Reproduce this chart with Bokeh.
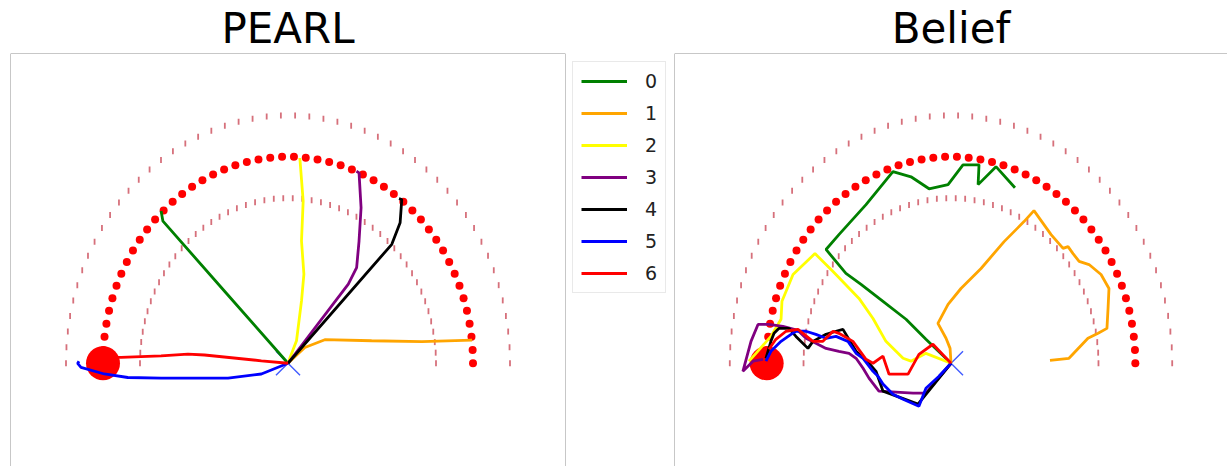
import numpy as np
from bokeh.plotting import figure
from bokeh.models import Legend, LegendItem, Span
from bokeh.layouts import row
from bokeh.embed import file_html
from bokeh.resources import INLINE

# agents and their colours
agent_labels = ["0", "1", "2", "3", "4", "5", "6"]
agent_colors = ["#008000", "#ffa500", "#ffff00", "#800080", "#000000", "#0000ff", "#ff0000"]

# goal ring geometry
goal_radius = 1.0
inner_radius = 0.8
outer_radius = 1.2
ring_points = 50
goal_pos = (-1.0, 0.0)
start_pos = (0.0, 0.0)

# PEARL trajectories (one list per agent)
pearl_x = [
    [0.0, -0.338, -0.676, -0.686],
    [0.0, 0.091, 0.199, 0.452, 0.724, 0.995],
    [0.0, 0.019, 0.046, 0.073, 0.086, 0.073, 0.082, 0.064],
    [0.0, 0.326, 0.371, 0.384, 0.395, 0.384, 0.370],
    [0.0, 0.561, 0.606, 0.615, 0.600],
    [0.0, -0.144, -0.324, -0.686, -0.866, -0.993, -1.119, -1.137, -1.130],
    [0.0, -0.144, -0.451, -0.541, -0.686, -0.902, -1.000],
]
pearl_y = [
    [0.0, 0.344, 0.688, 0.737],
    [0.0, 0.076, 0.114, 0.109, 0.105, 0.112],
    [0.0, 0.046, 0.109, 0.302, 0.431, 0.592, 0.785, 0.994],
    [0.0, 0.383, 0.463, 0.592, 0.753, 0.922, 0.930],
    [0.0, 0.576, 0.680, 0.793, 0.797],
    [0.0, -0.052, -0.072, -0.072, -0.069, -0.052, -0.020, -0.001, 0.010],
    [0.0, 0.012, 0.040, 0.044, 0.036, 0.028, 0.030],
]

# Belief trajectories (one list per agent)
belief_x = [
    [0.0, -0.136, -0.244, -0.369, -0.488, -0.570, -0.678, -0.608, -0.461, -0.315,
     -0.217, -0.119, -0.016, 0.065, 0.152, 0.147, 0.244, 0.347],
    [0.0, -0.005, -0.027, -0.071, -0.016, 0.054, 0.163, 0.288, 0.396, 0.450, 0.543,
     0.608, 0.635, 0.662, 0.695, 0.749, 0.814, 0.857, 0.852, 0.846, 0.798, 0.743,
     0.640, 0.537],
    [0.0, -0.136, -0.217, -0.260, -0.353, -0.423, -0.499, -0.640, -0.738, -0.857,
     -0.917, -0.922, -0.977, -1.058, -1.096],
    [0.0, -0.136, -0.206, -0.391, -0.445, -0.477, -0.515, -0.553, -0.608, -0.678,
     -0.733, -0.787, -0.830, -0.912, -0.988, -1.047, -1.085, -1.129, -1.074, -1.020],
    [0.0, -0.179, -0.369, -0.407, -0.445, -0.515, -0.586, -0.624, -0.678, -0.749,
     -0.776, -0.841, -0.879, -0.933, -0.960, -0.977, -1.004],
    [0.0, -0.065, -0.136, -0.174, -0.260, -0.315, -0.369, -0.396, -0.423, -0.477,
     -0.515, -0.559, -0.624, -0.678, -0.733, -0.787, -0.841, -0.868, -0.922, -0.977,
     -1.004],
    [0.0, -0.098, -0.174, -0.233, -0.336, -0.369, -0.423, -0.461, -0.532, -0.608,
     -0.640, -0.695, -0.749, -0.830, -0.895, -0.950, -0.988],
]
belief_y = [
    [0.0, 0.116, 0.213, 0.300, 0.382, 0.435, 0.551, 0.623, 0.768, 0.928,
     0.903, 0.845, 0.865, 0.961, 0.961, 0.865, 0.952, 0.850],
    [0.0, 0.072, 0.121, 0.193, 0.285, 0.362, 0.459, 0.589, 0.686, 0.739, 0.623,
     0.556, 0.565, 0.531, 0.493, 0.478, 0.430, 0.362, 0.266, 0.169, 0.145, 0.121,
     0.024, 0.014],
    [0.0, 0.048, 0.010, 0.024, 0.106, 0.217, 0.314, 0.444, 0.531, 0.430,
     0.300, 0.213, 0.130, 0.048, 0.010],
    [0.0, -0.145, -0.145, -0.135, -0.072, -0.024, 0.024, 0.048, 0.058, 0.072,
     0.097, 0.121, 0.159, 0.179, 0.188, 0.188, 0.106, -0.039, 0.010, 0.019],
    [0.0, -0.198, -0.135, -0.039, 0.000, 0.058, 0.164, 0.155, 0.140, 0.106,
     0.072, 0.130, 0.169, 0.169, 0.145, 0.106, 0.024],
    [0.0, -0.063, -0.121, -0.208, -0.174, -0.150, -0.101, -0.063, -0.039, 0.024,
     0.048, 0.106, 0.130, 0.121, 0.140, 0.155, 0.155, 0.140, 0.106, 0.058,
     0.010],
    [0.0, 0.092, 0.043, -0.053, -0.053, 0.034, 0.000, 0.019, 0.106, 0.145,
     0.155, 0.106, 0.106, 0.164, 0.155, 0.116, 0.068],
]

FONT = "DejaVu Sans"
BORDER = "#8f8f8f"
LINE_W = 2.8


def make_panel(title, xs, ys, width, border_left, border_right, draw_right_edge):
    p = figure(width=width, height=466, x_range=(-1.5, 1.5), y_range=(-0.5, 1.5),
               output_backend="svg", toolbar_location=None,
               min_border_left=border_left, min_border_right=border_right,
               min_border_top=0, min_border_bottom=0,
               x_axis_location=None, y_axis_location=None)
    p.grid.visible = False
    p.outline_line_color = None
    p.background_fill_color = "white"
    p.border_fill_color = "white"

    p.title.text = title
    p.title.text_font = FONT
    p.title.text_font_size = "42px"
    p.title.text_font_style = "normal"
    p.title.text_color = "black"
    p.title.align = "center"
    p.title.standoff = 2

    # frame edges (bottom edge lies below the visible page)
    p.add_layout(Span(location=-1.5, dimension="height", line_color=BORDER, line_width=1))
    p.add_layout(Span(location=1.5, dimension="width", line_color=BORDER, line_width=1))
    if draw_right_edge:
        p.add_layout(Span(location=1.5, dimension="height", line_color=BORDER, line_width=1))

    ang = np.linspace(0.0, np.pi, ring_points)
    # tolerance band around the goal ring
    for r in (outer_radius, inner_radius):
        p.scatter(r * np.cos(ang), r * np.sin(ang), marker="dash", angle=np.pi / 2,
                  size=6, line_color="#c8404f", line_width=1.8, line_alpha=0.75)
    # goal ring
    p.scatter(goal_radius * np.cos(ang), goal_radius * np.sin(ang), marker="circle",
              size=8, fill_color="#ff0000", line_color=None)
    # goal and start
    p.scatter([goal_pos[0]], [goal_pos[1]], marker="circle", size=34,
              fill_color="#ff0000", line_color=None)
    p.scatter([start_pos[0]], [start_pos[1]], marker="x", size=34,
              line_color="#2040ff", line_width=1.4, line_alpha=0.85)

    for x, y, c in zip(xs, ys, agent_colors):
        p.line(x, y, line_color=c, line_width=LINE_W)
    return p


left = make_panel("PEARL", pearl_x, pearl_y, 566, 10, 1, True)
right = make_panel("Belief", belief_x, belief_y, 554, 1, 0, False)

# narrow middle strip that only carries the shared legend; its proxy lines
# reuse the PEARL paths but sit outside the strip's visible range
key = figure(width=107, height=466, x_range=(10, 11), y_range=(10, 11),
             output_backend="svg", toolbar_location=None,
             min_border_left=0, min_border_right=0, min_border_top=0, min_border_bottom=0,
             x_axis_location=None, y_axis_location=None)
key.grid.visible = False
key.outline_line_color = None
key.background_fill_color = "white"
key.border_fill_color = "white"
key_lines = [key.line(x, y, line_color=c, line_width=LINE_W)
             for x, y, c in zip(pearl_x, pearl_y, agent_colors)]

legend = Legend(
    items=[LegendItem(label=lab, renderers=[r]) for lab, r in zip(agent_labels, key_lines)],
    location=(6, 173), margin=0, padding=8, spacing=10,
    glyph_width=46, glyph_height=20, label_height=20, label_width=12,
    label_standoff=18,
    label_text_font=FONT, label_text_font_size="19px", label_text_color="#222222",
    border_line_color="#d4d4d4", border_line_width=1,
    background_fill_color="white", background_fill_alpha=1.0,
)
key.add_layout(legend)

layout = row(left, key, right, spacing=0)
html = file_html(layout, INLINE, title="PEARL vs Belief")
open("out.html", "w").write(html)
